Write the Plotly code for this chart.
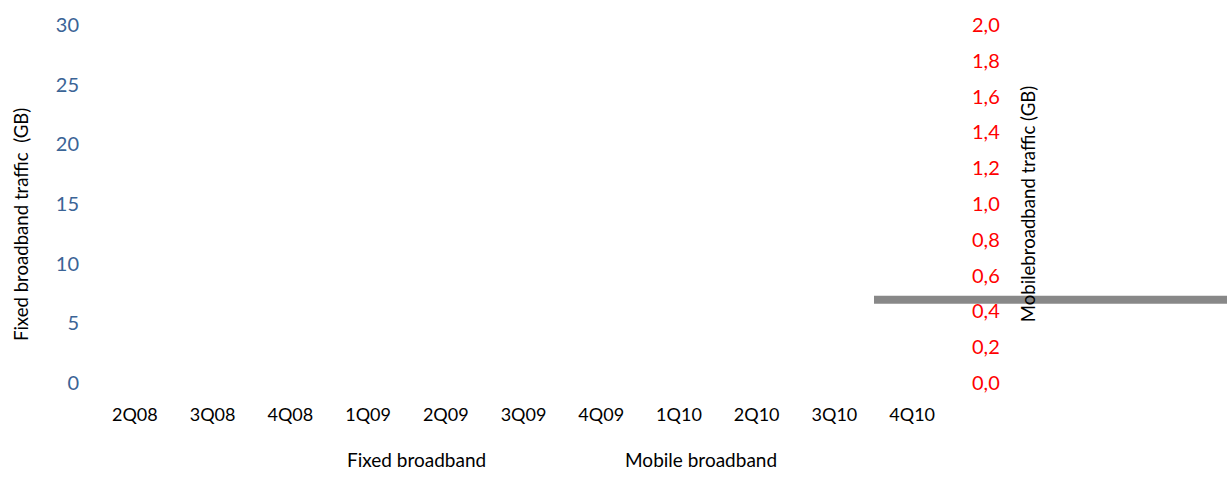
import plotly.graph_objects as go

quarters = ["2Q08", "3Q08", "4Q08", "1Q09", "2Q09", "3Q09", "4Q09", "1Q10", "2Q10", "3Q10", "4Q10"]
fixed_traffic = [None, None, None, None, None, None, None, None, None, None, None]
mobile_traffic = [None, None, None, None, None, None, None, None, None, None, None]
fixed_ticks = [0, 5, 10, 15, 20, 25, 30]
mobile_ticks = [0.0, 0.2, 0.4, 0.6, 0.8, 1.0, 1.2, 1.4, 1.6, 1.8, 2.0]

FONT = "Lato"
TOP, BOTTOM, LEFT, RIGHT = 18, 96, 96, 276
PH = 479 - TOP - BOTTOM
PW = 1227 - LEFT - RIGHT

fig = go.Figure()
fig.add_trace(go.Bar(x=quarters, y=fixed_traffic, name="Fixed broadband",
                     marker=dict(color="rgba(0,0,0,0)", line=dict(width=0)), yaxis="y"))
fig.add_trace(go.Bar(x=quarters, y=mobile_traffic, name="Mobile broadband",
                     marker=dict(color="rgba(0,0,0,0)", line=dict(width=0)), yaxis="y2"))

fig.update_layout(
    width=1227, height=479,
    margin=dict(l=LEFT, r=RIGHT, t=TOP, b=BOTTOM),
    paper_bgcolor="white", plot_bgcolor="white",
    separators=",.",
    font=dict(family=FONT, size=16, color="black"),
    showlegend=True,
    legend=dict(orientation="h", x=0.2468, y=-0.017, xref="paper", yref="container",
                xanchor="left", yanchor="bottom",
                entrywidth=233, entrywidthmode="pixels",
                font=dict(family=FONT, size=19, color="black"), bgcolor="rgba(0,0,0,0)"),
    xaxis=dict(type="category", categoryorder="array", categoryarray=quarters,
               showgrid=False, showline=False, zeroline=False, ticks="",
               ticklabelstandoff=19, tickfont=dict(family=FONT, size=18, color="black")),
    yaxis=dict(range=[0, 30], tickvals=fixed_ticks, showgrid=False, zeroline=False, showline=False,
               ticks="", ticklabelstandoff=16,
               tickfont=dict(family=FONT, size=20, color="#3B6496")),
    yaxis2=dict(range=[0, 2], tickvals=mobile_ticks, tickformat=".1f", overlaying="y", side="right",
                showgrid=False, zeroline=False, showline=False, ticks="", ticklabelstandoff=20,
                tickfont=dict(family=FONT, size=20, color="#FF0000"),
                title=dict(text="Mobilebroadband traffic (GB)", standoff=22,
                           font=dict(family=FONT, size=18.6, color="black"))),
)

fig.add_annotation(text="Fixed broadband traffic  (GB)", textangle=-90, showarrow=False,
                   xref="paper", yref="paper", x=(21 - LEFT) / PW, y=(479 - BOTTOM - 222) / PH,
                   xanchor="center", yanchor="middle",
                   font=dict(family=FONT, size=18.6, color="black"))

fig.add_shape(type="line", xref="paper", yref="paper", x0=(874 - LEFT) / PW, x1=(1227 - LEFT) / PW,
              y0=(479 - BOTTOM - 298) / PH, y1=(479 - BOTTOM - 298) / PH,
              line=dict(color="#888888", width=8))

fig.write_html("out.html")
